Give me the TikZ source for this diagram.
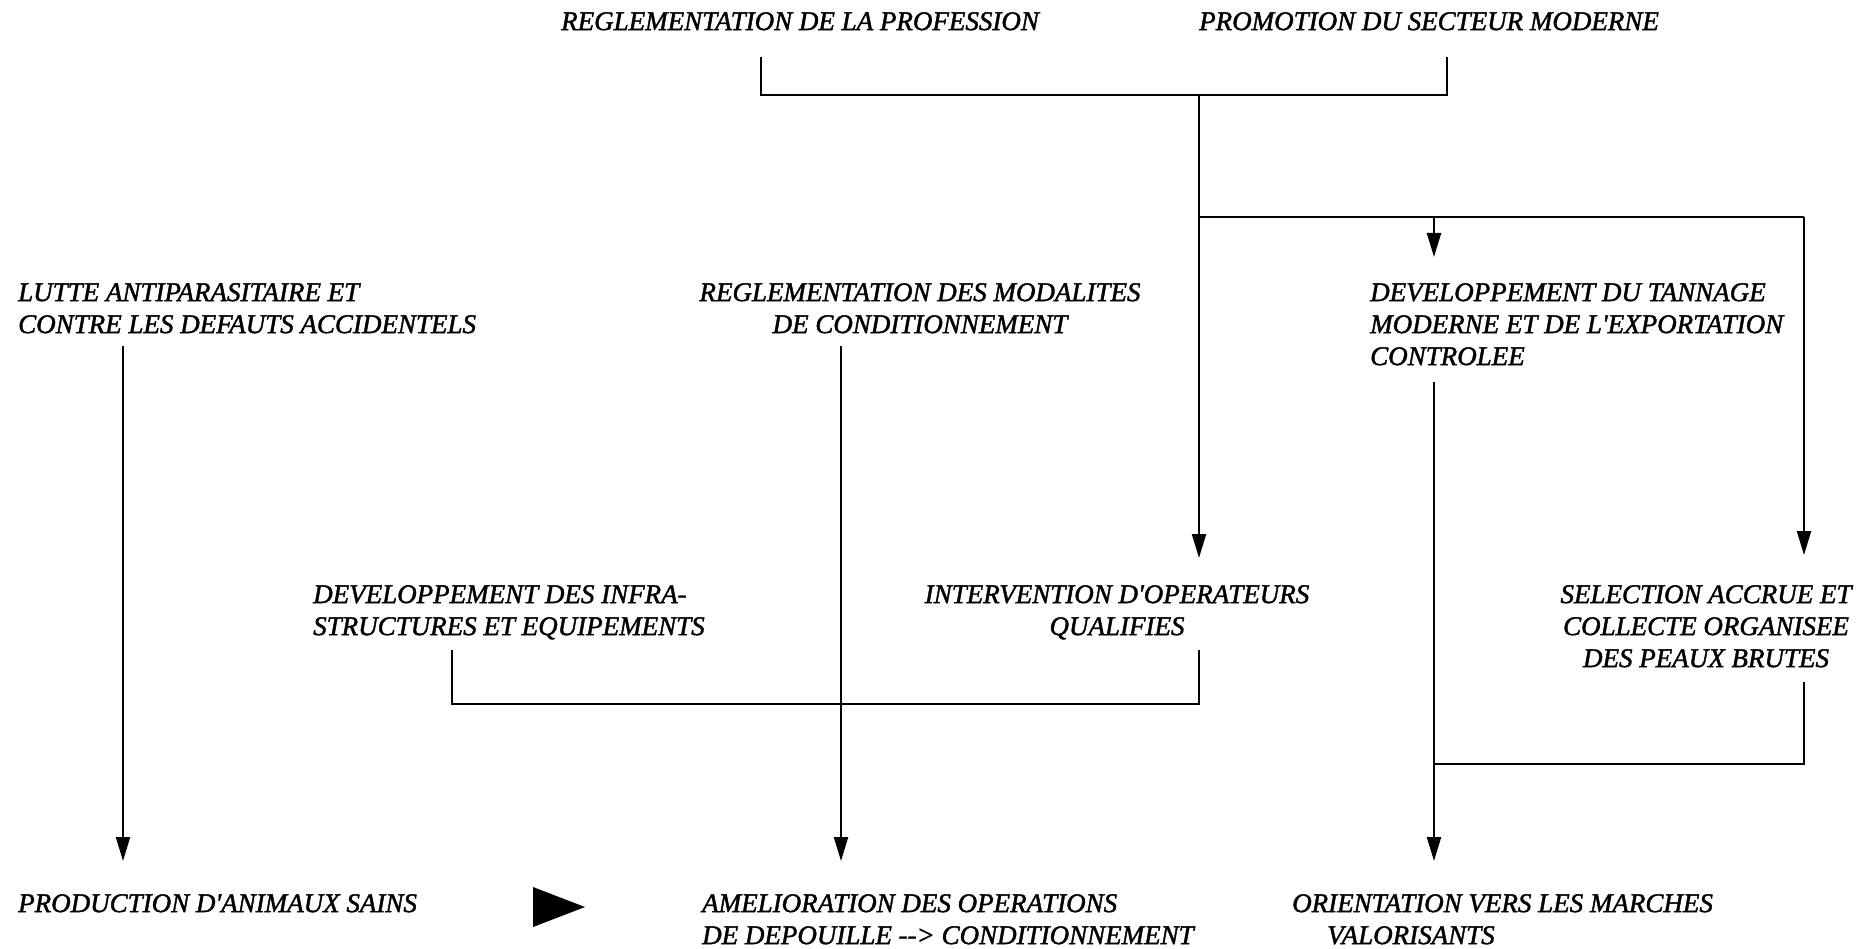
\documentclass[tikz,border=0pt]{standalone}
\usepackage{fontspec}
\setmainfont{Liberation Serif}[Ligatures=TeXOff, ItalicFeatures={FakeBold=1.5}]
\usetikzlibrary{arrows.meta}
\begin{document}
\begin{tikzpicture}[x=1pt,y=-1pt,
  lbl/.style={font=\fontsize{27}{32}\selectfont\itshape, inner sep=0pt, anchor=north west, align=left},
  lblc/.style={lbl, anchor=north, align=center},
  link/.style={line width=2.2pt},
  arr/.style={line width=2.2pt, -{Triangle[length=24pt,width=14pt]}}]
\useasboundingbox (0,0) rectangle (1871,949);

% top row
\node[lbl] (regprof) at (561,12) {REGLEMENTATION DE LA PROFESSION};
\node[lbl] (promo) at (1199,12) {PROMOTION DU SECTEUR MODERNE};

% middle rows
\node[lbl] (lutte) at (18,283) {LUTTE ANTIPARASITAIRE ET\\CONTRE LES DEFAUTS ACCIDENTELS};
\node[lblc] (regmod) at (920,283) {REGLEMENTATION DES MODALITES\\DE CONDITIONNEMENT};
\node[lbl] (tannage) at (1370,283) {DEVELOPPEMENT DU TANNAGE\\MODERNE ET DE L'EXPORTATION\\CONTROLEE};
\node[lbl] (infra) at (313,585) {DEVELOPPEMENT DES INFRA-\\STRUCTURES ET EQUIPEMENTS};
\node[lblc] (interv) at (1117,585) {INTERVENTION D'OPERATEURS\\QUALIFIES};
\node[lblc] (select) at (1706,585) {SELECTION ACCRUE ET\\COLLECTE ORGANISEE\\DES PEAUX BRUTES};

% results
\node[lbl] (prod) at (18,894) {PRODUCTION D'ANIMAUX SAINS};
\node[lbl] (amel) at (702,894) {AMELIORATION DES OPERATIONS\\DE DEPOUILLE -\kern0pt-\kern0pt> CONDITIONNEMENT};
\node[lbl] (orient) at (1292,894) {ORIENTATION VERS LES MARCHES\\\hspace*{35pt}VALORISANTS};

% connector end points
\coordinate (p1) at (761,57);
\coordinate (p2) at (1447,57);
\coordinate (jtop) at (1199,95);
\coordinate (jbr) at (1199,217);
\coordinate (jbrm) at (1434,217);
\coordinate (jbr2) at (1804,217);
\coordinate (t1) at (1199,558);
\coordinate (t2) at (1434,257);
\coordinate (t3) at (1804,555);
\coordinate (s1) at (123,346);
\coordinate (t4) at (123,861);
\coordinate (s2) at (841,346);
\coordinate (t5) at (841,861);
\coordinate (s3) at (1434,382);
\coordinate (t6) at (1434,861);
\coordinate (s4) at (452,650);
\coordinate (s5) at (1199,650);
\coordinate (jinf) at (841,704);
\coordinate (s6) at (1804,682);
\coordinate (jsel) at (1434,764);

% connectors
\draw[link] (p1) |- (jtop) -| (p2);
\draw[arr] (jtop) -- (t1);
\draw[link] (jbr) -- (jbr2);
\draw[arr] (jbrm) -- (t2);
\draw[arr] (jbr2) -- (t3);
\draw[arr] (s1) -- (t4);
\draw[arr] (s2) -- (t5);
\draw[arr] (s3) -- (t6);
\draw[link] (s4) |- (jinf) -| (s5);
\draw[link] (s6) |- (jsel);

% pointer between the first two results
\fill (533,887) -- (585,907) -- (533,927) -- cycle;
\end{tikzpicture}
\end{document}
